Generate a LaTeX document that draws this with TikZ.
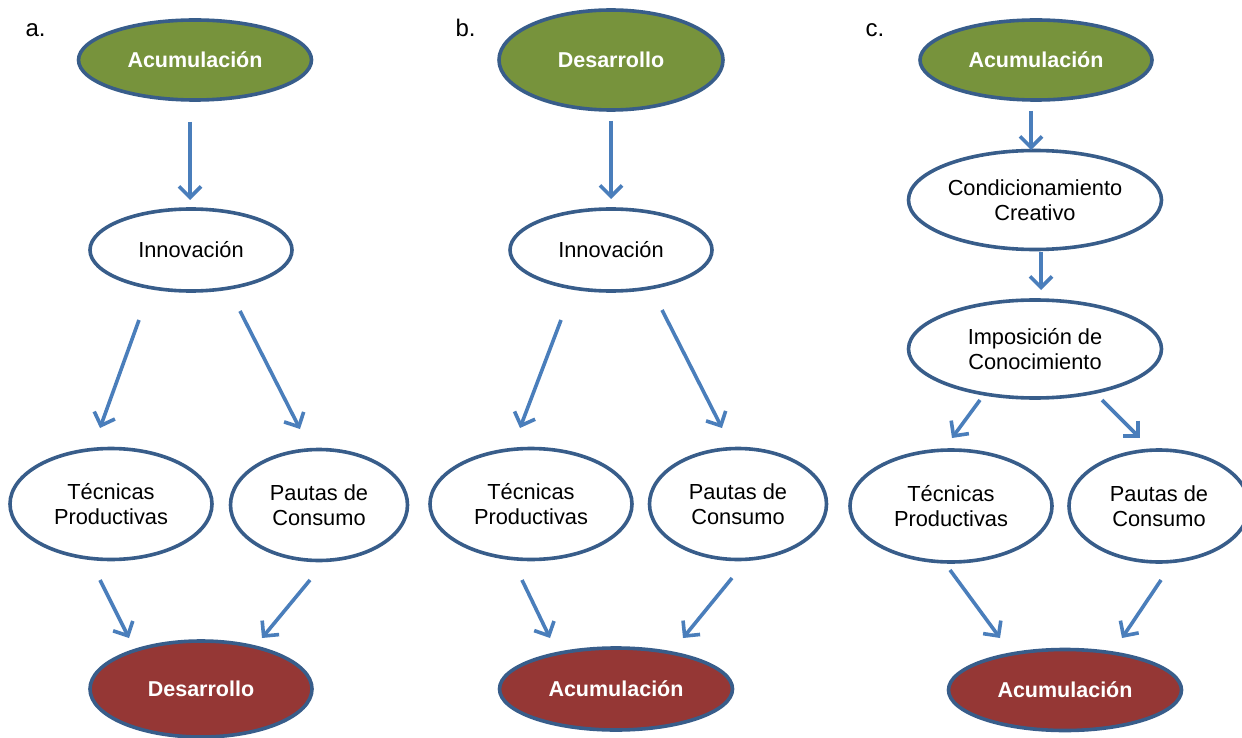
\documentclass[tikz,border=0pt]{standalone}
\usepackage{fontspec}
\setmainfont{Liberation Sans}
\usetikzlibrary{shapes.geometric,arrows.meta,calc}
\definecolor{ogreen}{RGB}{119,147,60}
\definecolor{ored}{RGB}{149,55,53}
\definecolor{oborder}{RGB}{56,93,138}
\definecolor{oarrow}{RGB}{74,126,187}
\tikzset{
  bub/.style={ellipse, draw=oborder, line width=3.6pt, inner sep=0pt, align=center,
    font=\fontsize{21.8}{25}\selectfont},
  plain/.style={bub, fill=white, text=black},
  gbub/.style={bub, fill=ogreen, text=white, font=\fontsize{21.5}{25}\selectfont\bfseries},
  rbub/.style={bub, fill=ored, text=white, font=\fontsize{21.5}{25}\selectfont\bfseries},
  flow/.style={draw=oarrow, line width=3.6pt, -{Straight Barb[length=11pt,width=22pt,line width=3.6pt]}},
  panel/.style={anchor=base west, font=\fontsize{24}{27}\selectfont}
}
\newcommand\flowarr[4]{\draw[flow] ($(#1)+(#2)$) -- ($(#3)+(#4)$);}
\begin{document}
\begin{tikzpicture}[x=1pt,y=-1pt]
\useasboundingbox (0,0) rectangle (1242,738);
\fill[white] (0,0) rectangle (1242,738);
% labels
\node[panel] (la) at (22,37) {a.};
\node[panel] (lb) at (452,37) {b.};
\node[panel] (lc) at (862,37) {c.};
% panel a
\node[gbub, minimum width=233pt, minimum height=80pt] (acuA) at (195,60) {Acumulación};
\node[plain, minimum width=202pt, minimum height=82pt] (innA) at (191,250) {Innovación};
\node[plain, minimum width=202pt, minimum height=111pt] (tecA) at (111,504) {Técnicas\\Productivas};
\node[plain, minimum width=177pt, minimum height=111pt] (pauA) at (319,505) {Pautas de\\Consumo};
\node[rbub, minimum width=222pt, minimum height=96pt] (desA) at (201,689) {Desarrollo};
% panel b
\node[gbub, minimum width=224pt, minimum height=100pt] (desB) at (611,60) {Desarrollo};
\node[plain, minimum width=202pt, minimum height=82pt] (innB) at (611,250) {Innovación};
\node[plain, minimum width=202pt, minimum height=111pt] (tecB) at (531,504) {Técnicas\\Productivas};
\node[plain, minimum width=177pt, minimum height=111pt] (pauB) at (738,504) {Pautas de\\Consumo};
\node[rbub, minimum width=233pt, minimum height=82pt] (acuRB) at (616,689) {Acumulación};
% panel c
\node[gbub, minimum width=232pt, minimum height=80pt] (acuC) at (1036,60) {Acumulación};
\node[plain, minimum width=253pt, minimum height=99pt] (condC) at (1035,200) {Condicionamiento\\Creativo};
\node[plain, minimum width=253pt, minimum height=98pt] (impC) at (1035,349) {Imposición de\\Conocimiento};
\node[plain, minimum width=202pt, minimum height=112pt] (tecC) at (951,506) {Técnicas\\Productivas};
\node[plain, minimum width=180pt, minimum height=112pt] (pauC) at (1159,506) {Pautas de\\Consumo};
\node[rbub, minimum width=233pt, minimum height=81pt] (acuRC) at (1065,690) {Acumulación};
% arrows a
\flowarr{acuA}{-5,62}{innA}{-1,-50}
\flowarr{innA}{-52,70}{tecA}{-11,-76}
\flowarr{innA}{49,61}{pauA}{-19,-76}
\flowarr{tecA}{-11,76}{desA}{-72,-51}
\flowarr{pauA}{-9,75}{desA}{61,-51}
% arrows b
\flowarr{desB}{0,61}{innB}{0,-51}
\flowarr{innB}{-50,70}{tecB}{-11,-76}
\flowarr{innB}{51,60}{pauB}{-16,-76}
\flowarr{tecB}{-9,76}{acuRB}{-66,-51}
\flowarr{pauB}{-6,74}{acuRB}{67,-51}
% arrows c
\flowarr{acuC}{-5,51}{condC}{-4,-50}
\flowarr{condC}{6,52}{impC}{6,-59}
\flowarr{impC}{-55,51}{tecC}{1,-68}
\flowarr{impC}{67,51}{pauC}{-19,-68}
\flowarr{tecC}{-1,64}{acuRC}{-65,-52}
\flowarr{pauC}{2,74}{acuRC}{57,-52}
\end{tikzpicture}
\end{document}
